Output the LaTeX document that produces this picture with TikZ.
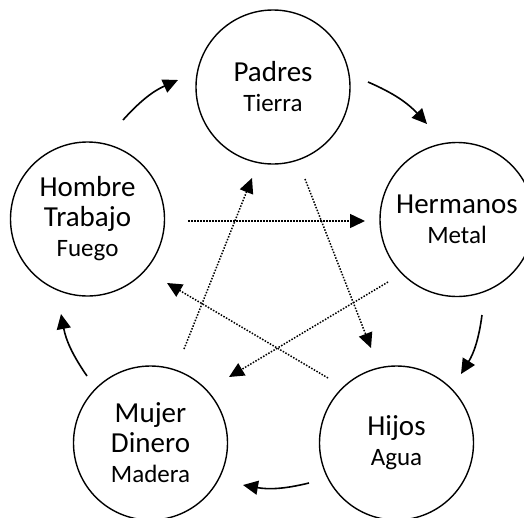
\documentclass[tikz,border=0pt]{standalone}
\usepackage{fontspec}
\setmainfont{Carlito}
\usetikzlibrary{arrows.meta}
\begin{document}
\begin{tikzpicture}[x=1pt,y=-1pt,
  elem/.style={circle, draw, line width=1.4pt, minimum size=154pt, inner sep=0pt, align=center, font=\fontsize{29}{30}\selectfont},
  cyc/.style={line width=1.6pt, -{Triangle[length=15pt,width=14pt]}},
  ctl/.style={line width=1.5pt, dash pattern=on 1.5pt off 1.5pt, -{Triangle[length=15pt,width=14pt]}}]
\useasboundingbox (0,0) rectangle (524,517);
\newcommand\smtxt[1]{{\fontsize{25}{30}\selectfont #1}}
\node[elem] (padres) at (273,87) {Padres\\\smtxt{Tierra}};
\node[elem] (hermanos) at (457,219.5) {Hermanos\\\smtxt{Metal}};
\node[elem] (hijos) at (396.5,443) {Hijos\\\smtxt{Agua}};
\node[elem] (mujer) at (150.5,443) {Mujer\\Dinero\\\smtxt{Madera}};
\node[elem] (hombre) at (87.5,219) {Hombre\\Trabajo\\\smtxt{Fuego}};
% cycle arrows
\coordinate (a1) at (123,120); \coordinate (a2) at (178,80);
\coordinate (b1) at (368,82);  \coordinate (b2) at (427,124);
\coordinate (c1) at (482,315); \coordinate (c2) at (461,374);
\coordinate (d1) at (309,483); \coordinate (d2) at (243,485);
\coordinate (e1) at (87,376);  \coordinate (e2) at (61,314);
\draw[cyc] (a1) to[bend left=12] (a2);
\draw[cyc] (b1) to[bend left=12] (b2);
\draw[cyc] (c1) to[bend left=12] (c2);
\draw[cyc] (d1) to[bend left=12] (d2);
\draw[cyc] (e1) to[bend left=12] (e2);
% control arrows
\coordinate (f1) at (188,221); \coordinate (f2) at (365,221);
\coordinate (g1) at (184,349); \coordinate (g2) at (252,178);
\coordinate (h1) at (305,179); \coordinate (h2) at (371,348);
\coordinate (i1) at (388,282); \coordinate (i2) at (229,377);
\coordinate (j1) at (328,378); \coordinate (j2) at (167,283);
\draw[ctl] (f1) -- (f2);
\draw[ctl] (g1) -- (g2);
\draw[ctl] (h1) -- (h2);
\draw[ctl] (i1) -- (i2);
\draw[ctl] (j1) -- (j2);
\end{tikzpicture}
\end{document}
